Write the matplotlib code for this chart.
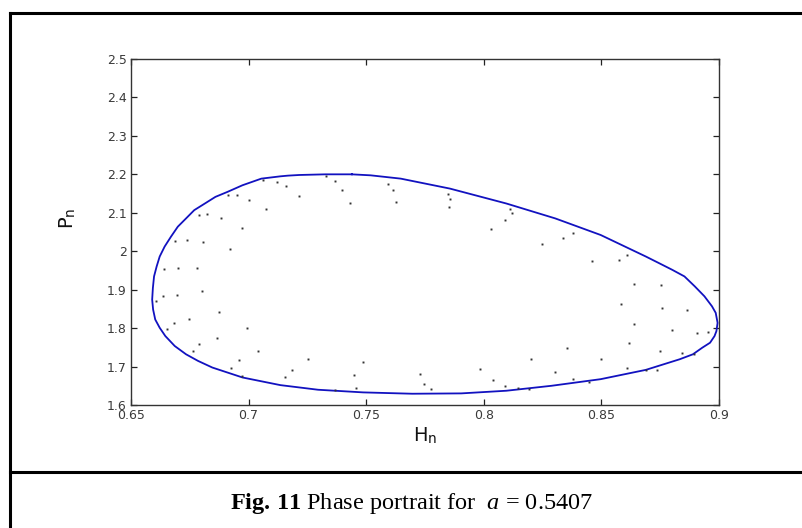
import matplotlib
matplotlib.use("Agg")
import matplotlib.pyplot as plt
from matplotlib.lines import Line2D

# Closed invariant curve (H_n, P_n)
curve_H = [0.7439, 0.7327, 0.7215, 0.7167, 0.7135, 0.7054, 0.6974, 0.6910, 0.6859, 0.6814,
           0.6769, 0.6734, 0.6699, 0.6670, 0.6643, 0.6622, 0.6609, 0.6598, 0.6593, 0.6590,
           0.6594, 0.6603, 0.6622, 0.6646, 0.6686, 0.6734, 0.6785, 0.6846, 0.6974, 0.7135,
           0.7295, 0.7487, 0.7696, 0.7904, 0.8096, 0.8288, 0.8497, 0.8689, 0.8833, 0.8889,
           0.8929, 0.8962, 0.8981, 0.8989, 0.8994, 0.8986, 0.8970, 0.8938, 0.8897, 0.8853,
           0.8801, 0.8745, 0.8689, 0.8497, 0.8304, 0.8096, 0.7856, 0.7647, 0.7519, 0.7439]
curve_P = [2.2000, 2.2000, 2.1983, 2.1966, 2.1948, 2.1888, 2.1716, 2.1543, 2.1414, 2.1241,
           2.1069, 2.0853, 2.0638, 2.0379, 2.0121, 1.9862, 1.9603, 1.9345, 1.9043, 1.8741,
           1.8483, 1.8224, 1.8009, 1.7793, 1.7534, 1.7319, 1.7147, 1.6974, 1.6716, 1.6517,
           1.6397, 1.6328, 1.6293, 1.6302, 1.6371, 1.6500, 1.6672, 1.6914, 1.7190, 1.7319,
           1.7491, 1.7620, 1.7793, 1.7922, 1.8138, 1.8397, 1.8569, 1.8828, 1.9086, 1.9345,
           1.9517, 1.9690, 1.9862, 2.0422, 2.0853, 2.1241, 2.1629, 2.1888, 2.1974, 2.2000]

# Scattered iterates inside the curve
dots_H = [0.7062, 0.7119, 0.7159, 0.7327, 0.7367, 0.7399, 0.7615, 0.7591, 0.7215, 0.7431,
          0.7628, 0.7003, 0.6950, 0.6913, 0.7075, 0.6883, 0.6822, 0.6790, 0.6974, 0.6923,
          0.6806, 0.6737, 0.6686, 0.6699, 0.6641, 0.6782, 0.6803, 0.6694, 0.6635, 0.6606,
          0.6873, 0.6747, 0.6683, 0.6654, 0.6995, 0.6867, 0.6790, 0.6763, 0.7038, 0.6958,
          0.6926, 0.6974, 0.7183, 0.7155, 0.7252, 0.7487, 0.7447, 0.7455, 0.7367, 0.7728,
          0.7744, 0.7776, 0.7984, 0.8040, 0.8091, 0.8144, 0.8192, 0.8200, 0.8301, 0.8353,
          0.8380, 0.8449, 0.8500, 0.8609, 0.8617, 0.8638, 0.8582, 0.8638, 0.8758, 0.8753,
          0.8801, 0.8865, 0.8905, 0.8953, 0.8841, 0.8893, 0.8750, 0.8689, 0.8737, 0.8462,
          0.8574, 0.8609, 0.8248, 0.8337, 0.8381, 0.8032, 0.8091, 0.8120, 0.8112, 0.7856,
          0.7853, 0.7848]
dots_P = [2.1845, 2.1802, 2.1690, 2.1948, 2.1828, 2.1603, 2.1586, 2.1741, 2.1440, 2.1259,
          2.1284, 2.1328, 2.1474, 2.1474, 2.1095, 2.0871, 2.0966, 2.0940, 2.0612, 2.0060,
          2.0250, 2.0293, 2.0267, 1.9560, 1.9543, 1.9560, 1.8974, 1.8871, 1.8828, 1.8698,
          1.8422, 1.8250, 1.8138, 1.7966, 1.8009, 1.7750, 1.7578, 1.7405, 1.7405, 1.7172,
          1.6974, 1.6759, 1.6914, 1.6716, 1.7207, 1.7121, 1.6776, 1.6431, 1.6397, 1.6802,
          1.6543, 1.6414, 1.6948, 1.6647, 1.6500, 1.6431, 1.6414, 1.7190, 1.6862, 1.7491,
          1.6672, 1.6603, 1.7190, 1.6974, 1.7603, 1.8095, 1.8638, 1.9147, 1.8526, 1.9129,
          1.7948, 1.8466, 1.7879, 1.7897, 1.7345, 1.7336, 1.7397, 1.6914, 1.6914, 1.9733,
          1.9776, 1.9905, 2.0190, 2.0336, 2.0466, 2.0569, 2.0810, 2.0983, 2.1095, 2.1371,
          2.1138, 2.1500]

x_ticks = [0.65, 0.7, 0.75, 0.8, 0.85, 0.9]
x_tick_labels = ["0.65", "0.7", "0.75", "0.8", "0.85", "0.9"]
y_ticks = [1.6, 1.7, 1.8, 1.9, 2.0, 2.1, 2.2, 2.3, 2.4, 2.5]
y_tick_labels = ["1.6", "1.7", "1.8", "1.9", "2", "2.1", "2.2", "2.3", "2.4", "2.5"]

plt.rcParams['mathtext.fontset'] = 'custom'
plt.rcParams['mathtext.rm'] = 'Liberation Serif'
plt.rcParams['mathtext.it'] = 'Liberation Serif:italic'
plt.rcParams['mathtext.bf'] = 'Liberation Serif:bold'

W, H = 802, 528
fig = plt.figure(figsize=(W / 100, H / 100), dpi=100)
fig.patch.set_facecolor('white')

ax = fig.add_axes([131 / W, 1 - 405 / H, (719 - 131) / W, (405 - 59) / H])
ax.plot(curve_H, curve_P, color='#1212c0', linewidth=1.3, solid_joinstyle='round')
ax.plot(dots_H, dots_P, linestyle='none', marker='s', markersize=1.4,
        markeredgewidth=0, color='#333333')

ax.set_xlim(0.65, 0.9)
ax.set_ylim(1.6, 2.5)
ax.set_xticks(x_ticks)
ax.set_xticklabels(x_tick_labels)
ax.set_yticks(y_ticks)
ax.set_yticklabels(y_tick_labels)
ax.tick_params(direction='in', length=4.5, width=0.9, color='#222222',
               top=True, right=True, labelsize=9, labelcolor='#3a3a3a', pad=3)
for s in ax.spines.values():
    s.set_linewidth(1.0)
    s.set_color('#333333')

ax.set_xlabel(r"H$_\mathregular{n}$", fontsize=14, color='#111111')
ax.set_ylabel(r"P$_\mathregular{n}$", fontsize=14, color='#111111')
ax.xaxis.set_label_coords(0.5, -0.06)
ax.yaxis.set_label_coords(-0.09, 0.54)

# Outer frame lines
lw = 2.2
fig.add_artist(Line2D([10 / W, 1.0], [1 - 13 / H, 1 - 13 / H], transform=fig.transFigure,
                      color='black', linewidth=lw))
fig.add_artist(Line2D([10 / W, 10 / W], [0.0, 1 - 13 / H], transform=fig.transFigure,
                      color='black', linewidth=lw))
fig.add_artist(Line2D([10 / W, 1.0], [1 - 472 / H, 1 - 472 / H], transform=fig.transFigure,
                      color='black', linewidth=lw))

fig.text(411 / W, 1 - 503 / H, r"$\mathbf{Fig.\,11}$ Phase portrait for  $a$ = 0.5407",
         ha='center', va='center', fontsize=17.5, family='Liberation Serif', color='black')

fig.savefig('out.png', dpi=100, facecolor='white')
